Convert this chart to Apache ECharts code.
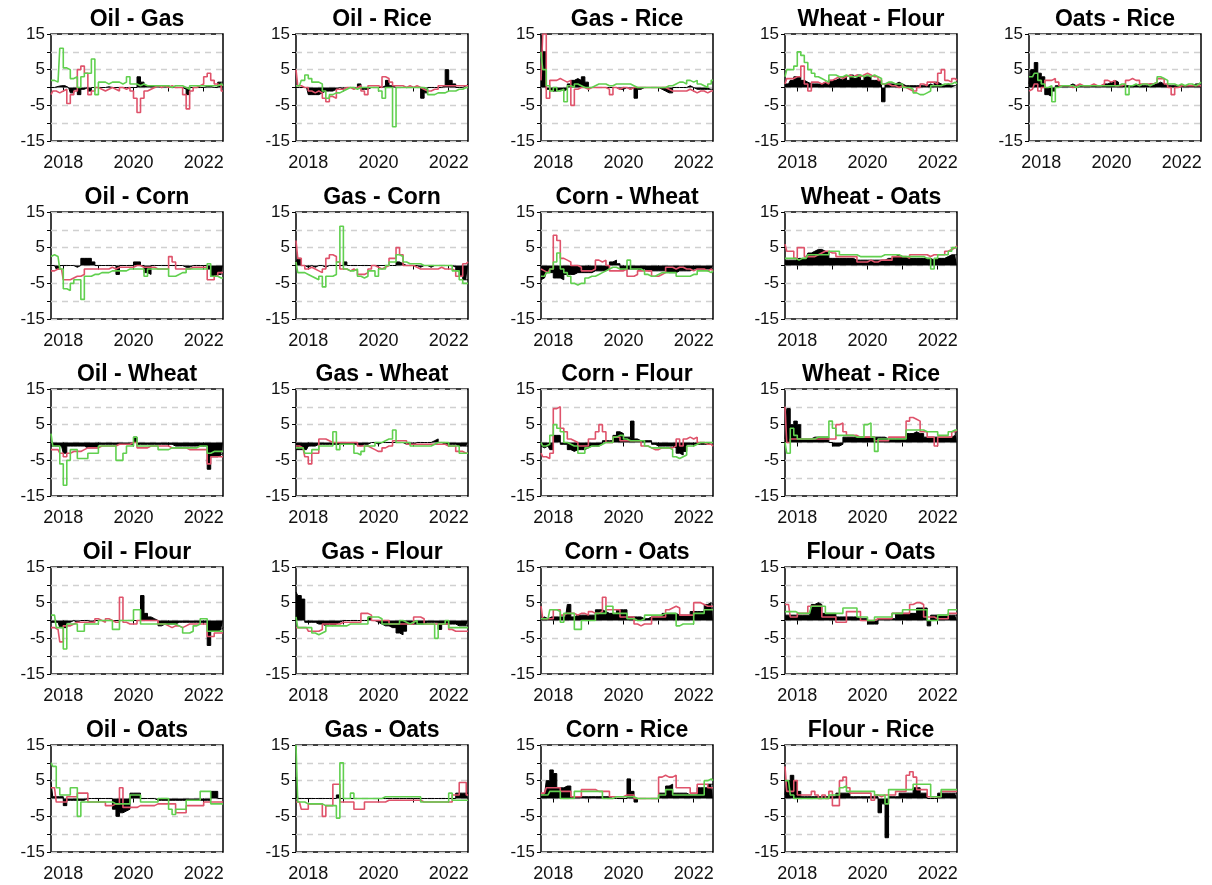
<!DOCTYPE html>
<html>
<head>
<meta charset="utf-8">
<script src="https://cdn.jsdelivr.net/npm/echarts@6/dist/echarts.min.js"></script>
<style>
html, body { margin: 0; background: #fff; }
#chart { width: 1212px; height: 885px; }
</style>
</head>
<body>
<div id="chart"></div>
<script>
// time grid (years)
const years = [
  2017.65, 2017.75, 2017.85, 2017.95, 2018.05, 2018.15, 2018.25, 2018.35, 2018.45, 2018.55,
  2018.65, 2018.75, 2018.85, 2018.95, 2019.05, 2019.15, 2019.25, 2019.35, 2019.45, 2019.55,
  2019.65, 2019.75, 2019.85, 2019.95, 2020.05, 2020.15, 2020.25, 2020.35, 2020.45, 2020.55,
  2020.65, 2020.75, 2020.85, 2020.95, 2021.05, 2021.15, 2021.25, 2021.35, 2021.45, 2021.55,
  2021.65, 2021.75, 2021.85, 2021.95, 2022.05, 2022.15, 2022.25, 2022.35, 2022.45, 2022.55
];
const yearLabels = [2018, 2020, 2022];
const yearTicks = [2018, 2019, 2020, 2021, 2022];
const valueLabels = [-15, -5, 5, 15];

// ---- Oil - Gas
const oilGasBlack = [0, 0, 0.3, 0.5, 0.5, 0, -1.5, -0.5, -2, -0.5,
  0, -1, 0, 0, 0, 0, 0.2, 0, 0, 0,
  0, 0, 0, 0, 0, 3, 1.5, 0.5, 0.5, 0.3,
  0.3, 0, 0.5, 0.5, 0, 0, 0, 0, -0.5, -2,
  0, 0, 0, 0, 0.3, 0.3, 0, 0, 1.5, 1.5];
const oilGasRed = [-2, -1, -1.5, -1, -0.5, -4.5, -2, -1, 5, 6,
  4, -2, -1, 0, -0.5, -1, -0.5, 0, -0.5, -1,
  0, -0.5, 0, -1, -3, -7, -3, -1, -0.5, 0,
  0.5, 0, 0.5, 0, 0.5, 0, 0, 0, -2, -6,
  -1, 0, 0.5, 1, 3, 4, 2, 1, 0.5, -1];
const oilGasGreen = [2, 2, 1.5, 11, 5.5, 5, 2.5, 3, 0, 3,
  4, 4, 8, -2, 1.5, 1.5, 1, 1.5, 1.5, 1.5,
  1, 1.5, 3, 1, 1, 0.5, 1, 0.5, 0.5, 0.5,
  0.5, 0.5, 0.5, 0.5, 0, 0.5, 0.5, 0.5, 0, -0.5,
  0.5, 0.5, 0.5, 0.5, 0.5, 0.5, 0.5, 0.5, 1, 0.5];

// ---- Oil - Rice
const oilRiceBlack = [0, 0, 0, 0, -2, -2, -2, -1.5, -1, -1,
  -1, -0.5, 0, -0.5, 0, 0, 0, 0, 1, -0.5,
  -0.5, 0, 0, 0, 0, 0.5, 2, 0.5, 0, 0,
  0, 0, 0, 0, 0, 0, -3, -1.5, 0, 0,
  0, 0, 0.5, 5, 2, 1, 0, 0, 0.5, 1];
const oilRiceRed = [5, 0.5, 0, 0, -1, -1.5, -1, -1.5, -3, -4,
  -2.5, -3, -0.5, -0.5, 0, 0, -0.5, 0, 0.5, -1,
  -2, 0.5, 0.5, 0.5, 0, 3, 2.5, 1.5, 0.5, 0.5,
  0.5, 0, 0.5, 0, 0.5, 0, -0.5, -1, -1, -0.5,
  -0.5, 0.5, 0.5, 0.5, 0.5, 0.5, 0.5, 0.5, 0.5, 0.5];
const oilRiceGreen = [0.5, 0.5, 2, 3.5, 2.5, 1.5, 1.5, 1, -1, -3,
  -2, -1.5, -1.5, -1, -0.5, 0, 0, -0.5, 0, 0,
  0, 0, 0, 0, -1, -3, 0, 0, -11, 0,
  0, 0, 0, 0, 0, 0, 0, -0.5, -2, -2,
  -1.5, -1.5, -1.5, -1, -1, -1, -0.5, -0.5, 0, 0];

// ---- Gas - Rice
const gasRiceBlack = [15, 10, -0.5, -1, -1, -0.5, -1, -0.5, 1, 2,
  2.5, 2, 3, 1.5, 0, 0, 0, 0, 0, 0,
  0, 0, -0.5, -0.5, 0, -0.5, 0, -3, -0.5, 0,
  0, 0, 0, 0, -0.5, -1, -1.5, -1.5, 0, 0,
  0, 0, 0.5, 0, -0.5, -0.5, -0.5, -0.5, -0.5, -0.5];
const gasRiceRed = [2, 15, -3, 2, 2, 2.5, 2, 1.5, 2, -5,
  -0.5, 0, 0, -0.5, 0, 0, 0, 0, 0, -0.5,
  -2, 0, -0.5, 0, 0, -0.5, 0, 0, 0, 0,
  0, 0, 0, 0, 0, 0, -0.5, -1, -1, -1,
  -1, -1, -0.5, -1, -1.5, -1, -1, -1.5, -1, -1];
const gasRiceGreen = [10, 5, 0.5, -1, 0, -1, -0.5, -4, 0.5, 0,
  1, 0.5, 0, 0, 0, 0.5, 1, 1, 1, 0.5,
  0.5, 1, 1, 1, 1, 1, 0.5, 0, 0, 0,
  0, 0, 0, 0, 0, 0, 0.5, 0.5, 1, 1.5,
  1.5, 1, 2, 1.5, 2, 1, 0.5, 0, 1, 2];

// ---- Wheat - Flour
const wheatFlourBlack = [1, 1, 2, 3, 3, 2, 1.5, 1, 1, 1,
  1, 1.5, 1, 2, 2, 2.5, 2, 3, 2, 3.5,
  2.5, 3.5, 2, 3, 3, 2, 2, 1.5, -4, 1,
  1, 1, 1.5, 1, 0.5, 0.5, 0.5, 0.5, 0.5, 0.5,
  0.5, 1, 0.5, 1.5, 1, 0.5, 1, 0.5, 0.5, 1];
const wheatFlourRed = [1, 2.5, 2.5, 3, 3, 6, 1, -1, 1.5, 1.5,
  1, 1.5, 1, 2, 2.5, 3, 2.5, 3, 3.5, 3,
  3.5, 3, 3.5, 4, 3.5, 3, 3, 2, 1, 1,
  0.5, 0.5, 0, 0.5, 0, -0.5, -1, -1, 0, 1,
  0.5, 1.5, 1.5, 1, 4, 5, 2, 1.5, 2.5, 2];
const wheatFlourGreen = [3, 5, 5, 6, 10, 9, 7, 5, 4, 3,
  2.5, 2, 1.5, 3.5, 3.5, 3, 3, 3.5, 3, 3,
  3, 3.5, 3, 3.5, 3, 3.5, 3, 2.5, 1, 1.5,
  1.5, 1, 1, 1, 0, 0, -0.5, -1.5, -2, -2,
  -1.5, -1, 0.5, 0.5, 0.5, 1, 1, 1, 1.5, 1];

// ---- Oats - Rice
const oatsRiceBlack = [1, 5, 7, 4, 3, -2, -2.5, -1, 0.5, 0.5,
  0.5, 0.5, 1, 0.5, 0.5, 0.5, 0.5, 0.5, 0.5, 0.5,
  0.5, 1, 1, 1.5, 2, 1.5, 0.5, 0.5, 0.5, 0.5,
  0.5, 1, 0.5, 0.5, 1, 1, 1, 1.5, 1, 0.5,
  0.5, 0.5, 0.5, 0.5, 0.5, 0.5, 0.5, 1, 1, 1.5];
const oatsRiceRed = [-1, -0.5, 1, -1, 0, 2, 2, 2.5, 1.5, 0.5,
  0.5, 0.5, 0, 0.5, 1, 0.5, 0.5, 0.5, 1, 0.5,
  0.5, 1, 2, 1.5, 2, 0.5, 0.5, 1, 2, 2.5,
  2, 2, 1, 1, 1, 1, 1.5, 2.5, 2.5, 1,
  0, -2, 0, 0.5, 0.5, 0.5, 0.5, 0.5, 0.5, 0.5];
const oatsRiceGreen = [3, 3, 4, 2, 1, 0, 0.5, -4, 0, 0.5,
  0.5, 0.5, 0.5, 0, 0.5, 0.5, 0.5, 0.5, 0.5, 0.5,
  0.5, 0.5, 0.5, 0.5, 0.5, 0.5, 1, 1, -2, 0.5,
  1, 0.5, 1, 1, 0.5, 1, 1.5, 3, 2.5, 2,
  1, 1, 0.5, 1, 0.5, 1, 1, 0.5, 1, 1.5];

// ---- Oil - Corn
const oilCornBlack = [0, 0, -1, 0, 0, 0, 0, -0.5, 0, 2,
  2, 2, 1, 0, 0, 0, 0, 0, 0, -2.5,
  0, 0, 0, 0, 1, 1, 0, -2, -2.5, 0,
  0, 0, 0, 0, 0, 0, 0, 0, -0.5, -0.5,
  0, 0, 0, 0, 0, -1, -3, -2.5, -2.5, -2];
const oilCornRed = [-1.5, -1.5, -1, -1, -4, -4, -3.5, -3, -3, -2.5,
  -1, -1, -1, -1, -1, -1, -1, -0.5, -1, -0.5,
  -0.5, -0.5, -0.5, -0.5, 0, 0, -0.5, -0.5, -0.5, -0.5,
  -1, -1, -1, -1, 2.5, 1, -1, -1, -1, -1,
  -0.5, -0.5, -0.5, -0.5, -0.5, -4, -4, -3, -2, -2];
const oilCornGreen = [2.5, 3, 2.5, -1, -6.5, -7, -5, -4, -4, -9.5,
  -3, -3, -2.5, -2.5, -2, -2, -2, -1.5, -1.5, -1.5,
  -1.5, -1.5, -1, -1, -1, -1, -1, -3, -1, -1,
  -1, -1, -1, -1, -3, -3, -2.5, -2, -2, -1,
  -1, -1, -1, -1, -1, 0.5, -3, -3, -3.5, -3.5];

// ---- Gas - Corn
const gasCornBlack = [1, 2, 0, -0.5, 0, -0.5, 0, 0, -0.5, 0,
  0, 0, 0, 0, 1, 0, 0, 0, 0, 0,
  0, 0, 0, 0, 0, 0, 0, 0, 0, 1,
  0.5, 0, 0, 0, 0, -0.5, 0, 0, -0.5, 0,
  0, 0, 0, 0, 0, -0.5, -1.5, -3, -4, -4];
const gasCornRed = [7, 2, 0, -1, -0.5, -1, -1.5, -2, -1, 2,
  3, 2.5, 1, -1, -1, -1.5, -1, -1.5, -2.5, -2.5,
  -2, -1, 0, -0.5, -1, -0.5, 0, 2, 2, 5,
  3, 0, 0, 0, -0.5, -1, -1, -1, -1, -1,
  -1, -0.5, -1, -1, -1, -1.5, -3, -3, 0.5, 1];
const gasCornGreen = [1, -2, -2, -2.5, -3, -3.5, -4, -3, -6, -3,
  -3, -2.5, 1, 11, -1, -1.5, -1.5, -1, -3, -3.5,
  -3, -1.5, -1.5, -3, -1, -1, 0, 1, 1, 3,
  2.5, 1, 0.5, 0.5, 0.5, 0.5, 0, 0, 0, 0,
  0, 0, 0, 0, 0, -1.5, -1.5, -4, -5, -5];

// ---- Corn - Wheat
const cornWheatBlack = [-4, -3.5, -2, -2, -3.5, -3.5, -4, -2.5, -2.5, -2.5,
  -2, -2, -2, -2, -2, -1.5, -1.5, -1.5, -1.5, -1,
  1, 1.5, 0.5, -1, -1, -1, -1, -1, -1.5, -1,
  -1.5, -1.5, -1.5, -1.5, -1.5, -1.5, -2, -2, -2, -1.5,
  -1.5, -1.5, -1.5, -1, -1, -1, -1, -1, -1, -1];
const cornWheatRed = [-1, -1.5, -2, -1, 8.5, 7, 2, 1.5, 1, 0,
  0, -0.5, -1.5, -1.5, -1.5, -1, 1.5, 1, 1.5, 0,
  -1.5, -1.5, -1.5, -1.5, -1, -3, -3, -2.5, -1.5, -1.5,
  -1.5, -1.5, -3, -3, -2.5, -2, -0.5, -0.5, -1, -0.5,
  -0.5, -1, -1, -1.5, -1, -1, -1, -1.5, -1, -1.5];
const cornWheatGreen = [-3, -3, -2, -1, 1, 3.5, -1, -2, -3, -5,
  -5.5, -5, -5, -3.5, -3, -3, -2.5, -2, -1.5, -1,
  -0.5, -0.5, -1, -1, -1, 1.5, -1, -1, -1, -1.5,
  -2.5, -3, -3, -2.5, -2, -2, -2, -2, -2, -3,
  -3, -3, -3, -2.5, -2.5, -1.5, -1.5, -1.5, -2, -1.5];

// ---- Wheat - Oats
const wheatOatsBlack = [1.5, 1.5, 1.5, 1.5, 2, 2, 2, 3.5, 4, 4.5,
  4.5, 4, 3.5, 2, 2, 2, 2, 2, 2, 2,
  1.5, 1.5, 1.5, 1.5, 1.5, 1.5, 1.5, 1.5, 1.5, 2,
  2, 2.5, 3, 2.5, 2.5, 2, 2, 2, 2, 2,
  2, 2, 1.5, 2, 2, 2, 2.5, 3, 3, 3];
const wheatOatsRed = [6, 4, 4, 2, 5, 5, 2.5, 2.5, 2.5, 3,
  3.5, 4, 4, 3.5, 3.5, 2.5, 2.5, 2.5, 2.5, 2.5,
  2.5, 1, 1, 1, 1.5, 1, 1, 1.5, 1.5, 1.5,
  1.5, 2.5, 2.5, 2.5, 2.5, 2, 3, 3, 3, 3,
  3, 2.5, 3, 3, 3, 3, 4, 4.5, 5, 5.5];
const wheatOatsGreen = [2, 2, 2, 2, 1.5, 2, 2, 3, 3, 3,
  3, 3, 3, 4, 4, 4, 3, 3, 3, 3,
  3, 2.5, 2.5, 2.5, 2.5, 2.5, 2.5, 2.5, 3, 3,
  3, 3, 3, 2.5, 2.5, 2.5, 2.5, 2.5, 2.5, 2.5,
  2, 2, -1, 2, 3, 3, 3, 4, 5, 5];

// ---- Oil - Wheat
const oilWheatBlack = [-1, -1, -1, -1, -3, -1, -1, -1, -1, -1,
  -1.5, -1.5, -1.5, -1.5, -0.5, -0.5, -0.5, -0.5, -0.5, -0.5,
  -0.5, -0.5, -0.5, -0.5, 1.5, -0.5, -0.5, -0.5, -0.5, -0.5,
  -0.5, -0.5, -0.5, -0.5, -0.5, -1, -1, -1, -1, -1,
  -1, -1, -1, -1, -1, -7.5, -4, -4, -3.5, -3];
const oilWheatRed = [-2, -2, -2, -3, -4, -3, -2.5, -2.5, -2.5, -2,
  -1.5, -1.5, -1.5, -1.5, -1, -1, -1, -1, -1, -0.5,
  -0.5, -0.5, -0.5, 0, 0, -1.5, -1.5, -1.5, -1, -1,
  -1, -1, -1, -1, -1.5, -1.5, -1.5, -1.5, -1.5, -2,
  -2, -2, -2, -2, -2, -6, -4, -4, -4, -4];
const oilWheatGreen = [2.5, -1, -1, -6, -12, -5, -2, -2, -4.5, -4.5,
  -4.5, -3, -3, -3, -1, -1, -1, -1, -1, -5,
  -5, -3, -1, -1, 1.5, -1, -1, -1, -1, -1,
  -1, -2, -2, -2, -1.5, -1.5, -1.5, -1.5, -1.5, -1.5,
  -1.5, -1.5, -1, -1, -1, -3, -2.5, -2.5, -2.5, -2.5];

// ---- Gas - Wheat
const gasWheatBlack = [-2, -2, -2, -2, -1, -1, -0.5, -0.5, -0.5, -0.5,
  -0.5, -0.5, -0.5, -0.5, -0.5, -0.5, -0.5, -0.5, -1, -0.5,
  -0.5, 0, 0, -0.5, 0, 0, 0, 0, 0, 0,
  0, -0.5, -0.5, -0.5, 0, 0, 0, 0, 0, 0.5,
  1, 0, -0.5, -0.5, -0.5, -0.5, -1, -1, -1, -1];
const gasWheatRed = [-1, -1, -1.5, -4, -6, -3, -3, 1, 1, 0.5,
  0, 0, 0, 0, 0, 0, 0, 0, -1, -1,
  -1, -1.5, -2, -2.5, -2.5, -1.5, -1, -1, 0.5, 0.5,
  0.5, 0.5, -0.5, -0.5, -0.5, -0.5, -0.5, -0.5, -0.5, -0.5,
  -0.5, -0.5, -0.5, -1, -1, -1, -2.5, -2.5, -3, -3];
const gasWheatGreen = [-1.5, -1.5, -1.5, -3, -3, -2, -2, -1, -1, -1,
  -1, 3, -2, -0.5, -0.5, -0.5, -0.5, -3, -3.5, -2.5,
  -1, -1, -1, 0, 0, 0.5, 1, 1, 3.5, 0,
  0, 0, 0, -1, -1, -1, -1, -1, -1, -0.5,
  0, 0, 0, 0, -1, -1, -1, -3, -3, -3];

// ---- Corn - Flour
const cornFlourBlack = [-1, -1.5, -1, -2, 2, 2, -0.5, -0.5, -2, -2.5,
  -2, -2, -2, -1.5, -1, -1, -1, -0.5, 0.5, 0.5,
  0.5, 2, 3, 2.5, 1.5, 1.5, 6, 1, 0.5, 0.5,
  0.5, 0.5, -0.5, -1, -1, -1, -1, -1, -1.5, -3,
  -3.5, -2.5, -0.5, -0.5, -0.5, -0.5, -0.5, -0.5, -0.5, -0.5];
const cornFlourRed = [-3, -4, -4.5, -3, 9.5, 10, 4, 3, 1, 0.5,
  0, -1, -1, -1, 1, 1, 3, 5, 3, 0,
  0, 1.5, 1.5, 0.5, 0.5, 0.5, 0.5, 0.5, 0.5, -1,
  -1, -1.5, -2, -2, -1.5, -1.5, -1.5, -1.5, -1, 1,
  -1, 1, 1.5, 1, 1.5, 0, 0, -0.5, -0.5, -1];
const cornFlourGreen = [0, -1, -0.5, 2, 5, 4, 3, 0, -0.5, -1,
  -1, -3, -3, -1.5, -1, -1, -1, -0.5, 0, 0,
  0, 1.5, 2, 2, 1, 0.5, 0.5, 0.5, 0.5, 0.5,
  -1, -1.5, -1.5, -1.5, -1.5, -1.5, -1.5, -2, -4, -4.5,
  -4, -3.5, -1, -1, -0.5, 0, 0, 0, 0, 0];

// ---- Wheat - Rice
const wheatRiceBlack = [1, 9.5, 5, 6, 5, 1, 1, 1, 1.5, 1.5,
  1.5, 1.5, 1.5, 0, -1, -1, -0.5, 1.5, 1.5, 1.5,
  1.5, 1.5, 1.5, 1.5, 1.5, 1.5, 1.5, 1.5, 1.5, 1,
  1, 1, 1, 1, 1, 2.5, 2.5, 3, 2.5, 2.5,
  1.5, 1.5, 1.5, 1.5, 1.5, 1.5, 1.5, 1.5, 2, 3];
const wheatRiceRed = [10, 0, 1, 1, 1, 1, 1, 1, 1, 1,
  1, 1, 1, 1, 1, 5, 5.5, 3, 2, 2,
  2, 1.5, 1.5, 1.5, 1.5, 1.5, 0.5, 0.5, 0.5, 0.5,
  1.5, 1.5, 1.5, 1.5, 1.5, 6, 7, 6.5, 6, 3,
  3, 1.5, 1.5, -1, 1.5, 1.5, 1.5, 1.5, 3, 3.5];
const wheatRiceGreen = [0, -3, 4, 2, 1, 1, 1, 1, 1, 1.5,
  1.5, 1.5, 1.5, 6, 4, 2, 2, 2, 2, 2,
  1.5, 1.5, 1.5, 5, 5.5, 1.5, -2.5, 1, 1, 1,
  1, 1, 1, 1, 1, 3.5, 3.5, 3.5, 3.5, 3.5,
  3, 3, 3, 3, 2, 2, 2, 3, 3.5, 3.5];

// ---- Oil - Flour
const oilFlourBlack = [-0.5, -0.5, -0.5, -2, -2, -0.5, 0, -0.5, 0, 0,
  0, -0.5, 0, 0, 0, 0, 0, 0, 0, 0,
  0, 0, 0, 0, 0, 0, 7, 2, 1, 0.5,
  0, -1.5, -1, -1, -1, -1, -0.5, -0.5, -0.5, -0.5,
  -0.5, -0.5, -0.5, -0.5, -0.5, -7, -3, -3, -2.5, -2];
const oilFlourRed = [-2, -2, -2.5, -6, -1.5, -1.5, -1, -0.5, -0.5, -0.5,
  -0.5, -0.5, -0.5, 0.5, 0, -0.5, 0.5, 0, -0.5, -0.5,
  6.5, -0.5, -1, -1, -1, 0, 0, 0, 0, 0,
  0, -1, -1, -1.5, -2, -1.5, -1.5, -2, -1.5, -1,
  -1, -1, -1, -1, -1, -4.5, -4.5, -3.5, -3.5, -3.5];
const oilFlourGreen = [1.5, 1.5, -2, -2, -8, -1, -1, -1, -3, -3,
  -1, -1, -1, -1, 0, 0, 0, 0, -2.5, -2.5,
  0, 0, 0, 0, 3, 3, -1, -1, -1, -1,
  -1, -1, -1, -1, -1, -1, -1.5, -2, -3.5, -3.5,
  -3, -1.5, -1, 0.5, 0.5, -3, -3, -3, -3, -3];

// ---- Gas - Flour
const gasFlourBlack = [8, 7, 6, -0.5, -0.5, -0.5, -1, -1, -1.5, -1,
  -1.5, -1, -0.5, 0, 0, 0, 0, 0, 0, 0,
  0, 1, 0, -0.5, -1, -1.5, -1.5, -2, -2, -3.5,
  -4, -3, -1, -1, -1, -1, -1, -0.5, -0.5, -0.5,
  -0.5, -2.5, -1, -1, -1, -1, -1.5, -1.5, -1.5, -1.5];
const gasFlourRed = [-2, -2, -2, -2, -3, -3, -3, -2.5, -1, -1,
  -1, -1, -1, -0.5, -0.5, -0.5, -0.5, -0.5, -0.5, 2,
  2, 1.5, 0, 0, 0, 0, 0, -1, -1, -1,
  -1, -1, -1, -1, 1, 1, 0.5, -1, -1, -1,
  -1, -1, -1, -1, -2.5, -3, -3, -3, -3, -3];
const gasFlourGreen = [1, -2, -2, -2, -2, -3.5, -4, -3.5, -3, -1.5,
  -1.5, -1.5, -1.5, -1.5, -1.5, -1, -1, -1, -1, -1,
  -1, 1, 1, 1, 0.5, -1, -1, -1, -1, -1,
  0, -0.5, -1, -0.5, 0, -1, -1, -1, -1, -1,
  -5, -1, -1, 0, -2, -2, -2, -2, -2, -2];

// ---- Corn - Oats
const cornOatsBlack = [0.5, 1, 0.5, 1, 1, 1, 1, 1, 4.5, 1,
  1.5, 1.5, 1.5, 1.5, 1.5, 1.5, 3, 3, 2.5, 2,
  2, 2, 3, 3, 3, 1, 1, 1, 1, 0.5,
  0.5, 1, 1, 1, 1, 2, 2, 2, 2, 1.5,
  1.5, 1.5, 1.5, 2.5, 2.5, 2.5, 2.5, 4.5, 5, 4.5];
const cornOatsRed = [4, 0.5, 0.5, 0.5, 3, 3, 1.5, 2, 2, 2,
  1.5, 2, 2, 1.5, 2.5, 2, 2, 2.5, 6.5, 3,
  3, 3, 3, 1, 1, 1, 1, -1, -1.5, -1,
  -1, -1, 1, 1, 1, 1, 3, 3.5, 4, 3.5,
  1.5, 1.5, 1.5, 1.5, 5, 5, 4.5, 4, 4, 4];
const cornOatsGreen = [0.5, 0.5, 0.5, 3, 3, 2.5, -0.5, 2, 2, 2,
  -2.5, -2.5, 0, 0, 0, 0, 2, 2, 2, 4,
  4, 2, 2, 2, 2, 0.5, 0.5, 0, 0, 0.5,
  1.5, 1.5, 1.5, 1.5, 1.5, 2, 2, 2, 2, -1.5,
  -1, -1, -1, -1, 2, 2, 2, 3, 3, 3];

// ---- Flour - Oats
const flourOatsBlack = [1.5, 1.5, 1.5, 1.5, 1.5, 1.5, 1.5, 1.5, 4.5, 5,
  4.5, 2, 2, 2, 2, 1, 1, 1, 1, 1,
  1, 0.5, 0.5, 0.5, -1, -1, -1, 0.5, 0.5, 0.5,
  0.5, 0.5, 2, 2, 2, 2, 2, 2, 3.5, 3.5,
  3.5, -1.5, 1.5, 1.5, 1.5, 1.5, 1.5, 1.5, 1.5, 1.5];
const flourOatsRed = [4.5, 4.5, 1, 1, 2, 2, 2, 4, 4, 4,
  4, 1, 1, 1, 1, -0.5, -0.5, -0.5, 2.5, 2.5,
  2.5, 2.5, 0, 0, 0, 0, 0.5, 0.5, 0.5, 0.5,
  0.5, 2, 2, 2, 2, 2, 4.5, 5, 5, 4.5,
  1, 1, 1, 0.5, 0.5, 0.5, 0.5, 2, 2, 2];
const flourOatsGreen = [2.5, 2.5, 2.5, 2.5, 2, 2, 2, 2, 4, 4,
  4, 4, 2, 2, 2, 2, 2, 3.5, 3.5, 3.5,
  3.5, 1, 1, 1, 0, 0, 1, 1, 1, 1,
  1, 2, 2, 2, 3, 3, 3, 3, 3, 3,
  3, 0, 0, 0, 1.5, 1.5, 1.5, 3, 3, 3];

// ---- Oil - Oats
const oilOatsBlack = [4.5, 0.5, 0.5, 0.5, -2, -0.5, -0.5, -0.5, -0.5, -0.5,
  0, 0, 0, 0, 0, 0, 0, 0, -3, -5,
  -4, -3.5, -3, 1.5, 1.5, 1.5, 0, 0, 0, 0,
  -0.5, -0.5, -0.5, -0.5, -0.5, -0.5, -0.5, -0.5, -0.5, -0.5,
  -0.5, -0.5, -0.5, -0.5, -0.5, -0.5, 2, 2, 0, 0];
const oilOatsRed = [3, 3, -1, -1, -1, 0.5, 0.5, 0.5, 1.5, 1.5,
  1.5, -1, -1, -1, -1, -1, -2, -2, -1.5, -1.5,
  3, -2.5, -2.5, -2.5, -2.5, -2, -2, -2, -2, -2,
  -1.5, -1.5, -1.5, -1.5, -1.5, -1.5, -4, -4, -4, -2,
  -2, -2, -2, -2, -1, -1, -1, -1, -1, -1];
const oilOatsGreen = [10, 9, 3, 1, 1, 1, 3, 3, -5, -1,
  -1, -1, -1, -1, -1, -1, -1, -1, -1.5, -1.5,
  -1.5, -1.5, -1.5, 1, 1, 1, -1, -1, -1, -1,
  -1, 0, 0, 0, -3, -4.5, -3, -3, -3, -0.5,
  -0.5, -0.5, -0.5, 2, 2, 2, -1.5, -1.5, -1.5, -1.5];

// ---- Gas - Oats
const gasOatsBlack = [6, 0, 0, 0, 0, 0, 0, 0, 0, 0,
  0, 0, 1, 0, 0, 0, 0, 0, 0, 0,
  0, 0, 0, 0, 0, 0, 0, 0, 0, 0,
  0, 0, 0, 0, 0, 0, 0, 0, 0, 0,
  0, 0, 0, 0, 0, 0, 1.5, 1.5, 1.5, 1.5];
const gasOatsRed = [-1, -1, -3, -3, -1.5, -1.5, -1.5, -1.5, -5, -2,
  -2, 4, 4, -1, -1, -1, -1, -3, -3, -3,
  -1, -1, -1, -1, -1, -1, -0.5, -0.5, -0.5, -0.5,
  -0.5, -0.5, -0.5, -0.5, -0.5, -0.5, -1, -1, -1, -1,
  -1, -1, -1, -1, -1, 1, 1, 4.5, 4.5, 1];
const gasOatsGreen = [15, -1, -1, -1.5, -1.5, -1.5, -1.5, -1.5, -2, -2,
  -2, -2, -5.5, 10, 0, 0, 1.5, 0, 0, 0,
  0, 0, 0, 0, 0, 0.5, 0.5, 0.5, 0.5, 0.5,
  0.5, 0.5, 0.5, 0.5, 0.5, 0.5, -1, -1, -1, -1,
  -1, -1, -1, -1, 1.5, -0.5, -0.5, -0.5, -0.5, -0.5];

// ---- Corn - Rice
const cornRiceBlack = [1, 1, 5, 8, 7, 3, 3, 3.5, 3.5, 0.5,
  0.5, 0.5, 0.5, 0.5, 0.5, 0.5, 0.5, 0.5, 0.5, 0.5,
  0, 0, 0, 0, 0, 5.5, 2, -1, 0, 0,
  0, 0, 0, 0, 1.5, 1.5, 3.5, 4, 1.5, 1.5,
  1.5, 1.5, 1, 1, 1, 3, 3, 3, 4, 4];
const cornRiceRed = [1.5, 1.5, 3, 3, 3, 3, 2, 2, 2, 0.5,
  0.5, 0.5, 2.5, 2.5, 2.5, 2.5, 2, 2, 2, 2,
  0.5, 0.5, 0.5, 0.5, 1, 1, 1, 0, 0, 0,
  0, 0, 0, 0, 6, 6.5, 6, 6, 6.5, 3,
  3, 3, 3, 1.5, 1.5, 4, 4, 4, 3, 3];
const cornRiceGreen = [1, 1, 1, 2, 2, 2, 0, 0, 0, 0,
  2, 2, 2, 2, 2, 2, 2, 2, 0, 0,
  0, 0.5, 0.5, 0.5, 0.5, 0.5, 0.5, 0, 0, 0,
  0, 0, 0, 0, 1, 1, 2.5, 2.5, 1, 1,
  1, 1, 1, 1, 1, 1, 1, 5, 5.5, 5];

// ---- Flour - Rice
const flourRiceBlack = [1, 5, 6.5, 5, 2, 0.5, 0.5, 0.5, 0.5, 0.5,
  0.5, 0.5, 0.5, 0.5, 0.5, 1.5, 1.5, 1.5, 1.5, 0.5,
  0.5, 0.5, 0.5, 0.5, 0.5, 0.5, 0.5, -4, -1.5, -11,
  0.5, 0.5, 0.5, 1.5, 1.5, 1.5, 1.5, 3, 3, 1.5,
  1.5, 0, 0, 0, 1.5, 1.5, 1.5, 1.5, 1.5, 1.5];
const flourRiceRed = [9, 2, 2, 5, 1, 1, 1, 1, 2, 1,
  0, 1, 0, 2, -2, -2, 5, 6, 3, 1.5,
  1.5, 1.5, 1.5, 1.5, 1.5, -0.5, 1, 0.5, 1, 1,
  1, 1, 2, 2, 2, 6.5, 7.5, 6, 2.5, 2.5,
  2.5, 0.5, 0.5, 0.5, 0.5, 2, 2, 2, 2, 2];
const flourRiceGreen = [5, 5, 1, 0, 0, 0, 0, 0, 0, 0,
  0, 0, 0, 1, 1, 1, 3, 3.5, 2, 2,
  2, 2, 2, 2, 2, 2, 1, 1, 1, -1.5,
  2.5, 2.5, 2.5, 2.5, 2.5, 2.5, 2.5, 4, 4, 4,
  4, 4, 0.5, 0.5, 0.5, 2.5, 2.5, 2.5, 2.5, 2.5];

const panels = [
  ['Oil - Gas', oilGasBlack, oilGasRed, oilGasGreen],
  ['Oil - Rice', oilRiceBlack, oilRiceRed, oilRiceGreen],
  ['Gas - Rice', gasRiceBlack, gasRiceRed, gasRiceGreen],
  ['Wheat - Flour', wheatFlourBlack, wheatFlourRed, wheatFlourGreen],
  ['Oats - Rice', oatsRiceBlack, oatsRiceRed, oatsRiceGreen],
  ['Oil - Corn', oilCornBlack, oilCornRed, oilCornGreen],
  ['Gas - Corn', gasCornBlack, gasCornRed, gasCornGreen],
  ['Corn - Wheat', cornWheatBlack, cornWheatRed, cornWheatGreen],
  ['Wheat - Oats', wheatOatsBlack, wheatOatsRed, wheatOatsGreen],
  ['Oil - Wheat', oilWheatBlack, oilWheatRed, oilWheatGreen],
  ['Gas - Wheat', gasWheatBlack, gasWheatRed, gasWheatGreen],
  ['Corn - Flour', cornFlourBlack, cornFlourRed, cornFlourGreen],
  ['Wheat - Rice', wheatRiceBlack, wheatRiceRed, wheatRiceGreen],
  ['Oil - Flour', oilFlourBlack, oilFlourRed, oilFlourGreen],
  ['Gas - Flour', gasFlourBlack, gasFlourRed, gasFlourGreen],
  ['Corn - Oats', cornOatsBlack, cornOatsRed, cornOatsGreen],
  ['Flour - Oats', flourOatsBlack, flourOatsRed, flourOatsGreen],
  ['Oil - Oats', oilOatsBlack, oilOatsRed, oilOatsGreen],
  ['Gas - Oats', gasOatsBlack, gasOatsRed, gasOatsGreen],
  ['Corn - Rice', cornRiceBlack, cornRiceRed, cornRiceGreen],
  ['Flour - Rice', flourRiceBlack, flourRiceRed, flourRiceGreen]
];

// layout of the small multiples
const colLeft = [51, 296, 541, 785, 1029];
const rowTop = [34, 212, 389, 567, 745];
const boxW = 172, boxH = 107;
const font = 'Liberation Sans, Arial, sans-serif';

const chart = echarts.init(document.getElementById('chart'));
const grid = [], xAxis = [], yAxis = [], title = [], series = [];

panels.forEach(function (p, k) {
  const row = k < 5 ? 0 : Math.floor((k - 5) / 4) + 1;
  const col = k < 5 ? k : (k - 5) % 4;
  const left = colLeft[col], top = rowTop[row];

  grid.push({
    left: left, top: top, width: boxW, height: boxH,
    show: true, borderColor: '#000', borderWidth: 1.5, backgroundColor: 'transparent'
  });
  title.push({
    text: p[0], left: left + boxW / 2, top: top - 26, textAlign: 'center', padding: 0,
    textStyle: { fontFamily: font, fontSize: 23, fontWeight: 'bold', color: '#000' }
  });
  xAxis.push({
    gridIndex: k, type: 'value', min: 2017.65, max: 2022.55,
    axisLine: { show: false },
    axisTick: { show: true, length: 4, customValues: yearTicks, lineStyle: { color: '#000', width: 1 } },
    axisLabel: {
      customValues: yearLabels, fontFamily: font, fontSize: 18, color: '#111', margin: 13,
      formatter: function (v) { return String(v); }
    },
    splitLine: { show: false }
  });
  yAxis.push({
    gridIndex: k, type: 'value', min: -15, max: 15, interval: 5,
    axisLine: { show: false },
    axisTick: { show: true, length: 4, lineStyle: { color: '#000', width: 1 } },
    axisLabel: {
      customValues: valueLabels, fontFamily: font, fontSize: 17, color: '#111', margin: 6,
      formatter: function (v) { return String(v); }
    },
    splitLine: { show: true, lineStyle: { color: '#d0d0d0', width: 1.3, type: [6, 5] } }
  });

  const toPts = function (arr) { return years.map(function (t, i) { return [t, arr[i]]; }); };
  series.push({
    type: 'line', xAxisIndex: k, yAxisIndex: k, data: toPts(p[1]), step: 'middle',
    symbol: 'none', silent: true, z: 2,
    lineStyle: { color: '#000', width: 1 }, areaStyle: { color: '#000', opacity: 1 }
  });
  series.push({
    type: 'line', xAxisIndex: k, yAxisIndex: k, data: toPts(p[2]), step: 'middle',
    symbol: 'none', silent: true, z: 3,
    lineStyle: { color: '#DF536B', width: 1.6 }
  });
  series.push({
    type: 'line', xAxisIndex: k, yAxisIndex: k, data: toPts(p[3]), step: 'middle',
    symbol: 'none', silent: true, z: 4,
    lineStyle: { color: '#61D04F', width: 1.6 }
  });
});

chart.setOption({
  animation: false,
  backgroundColor: '#fff',
  title: title,
  grid: grid,
  xAxis: xAxis,
  yAxis: yAxis,
  series: series
});
</script>
</body>
</html>
